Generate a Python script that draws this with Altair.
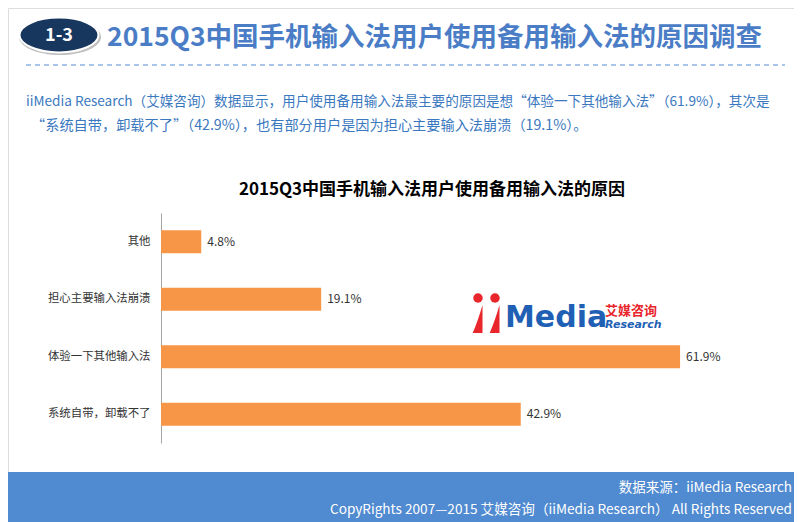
import altair as alt
import pandas as pd

categories = ["其他", "担心主要输入法崩溃", "体验一下其他输入法", "系统自带，卸载不了"]
values = [4.8, 19.1, 61.9, 42.9]
value_labels = ["4.8%", "19.1%", "61.9%", "42.9%"]

header_badge = "1-3"
header_title = "2015Q3中国手机输入法用户使用备用输入法的原因调查"
para_line1 = "iiMedia Research（艾媒咨询）数据显示，用户使用备用输入法最主要的原因是想“体验一下其他输入法”（61.9%），其次是"
para_line2 = "“系统自带，卸载不了”（42.9%），也有部分用户是因为担心主要输入法崩溃（19.1%）。"
chart_title = "2015Q3中国手机输入法用户使用备用输入法的原因"
source_text = "数据来源：iiMedia Research"
copyright_text = "CopyRights 2007—2015 艾媒咨询（iiMedia Research） All Rights Reserved"

CJK = "Noto Sans CJK SC"
W, H = 786, 514

df = pd.DataFrame({"cat": categories, "val": values, "lab": value_labels})
one = pd.DataFrame({"a": [0]})

xscale = alt.Scale(domain=[0, 70], range=[153, 740])
yscale = alt.Scale(domain=categories, range=[205, 435], paddingInner=0.6, paddingOuter=0.3)

bars = alt.Chart(df).mark_bar(color="#F79646").encode(
    x=alt.X("val:Q", scale=xscale, axis=None),
    y=alt.Y("cat:N", scale=yscale, sort=categories,
            axis=alt.Axis(title=None, orient="left", offset=-153, ticks=False,
                          domainColor="#A6A6A6", domainWidth=1, labelFont=CJK,
                          labelFontSize=11.4, labelColor="#333333", labelPadding=11,
                          grid=False)),
)
labels = alt.Chart(df).mark_text(align="left", baseline="middle", dx=6, font=CJK,
                                 fontSize=12, color="#333333").encode(
    x=alt.X("val:Q", scale=xscale), y=alt.Y("cat:N", scale=yscale, sort=categories),
    text="lab:N")

def txt(text, x, y, **kw):
    return alt.Chart(one).mark_text(text=text, **kw).encode(x=alt.value(x), y=alt.value(y))

# footer band
footer = alt.Chart(one).mark_rect(color="#508AD0").encode(
    x=alt.value(0), x2=alt.value(W), y=alt.value(464), y2=alt.value(H))

# badge ellipse
ell = "M -1 0 A 1 0.44 0 1 0 1 0 A 1 0.44 0 1 0 -1 0 Z"
badge_shadow = alt.Chart(one).mark_point(shape=ell, filled=True, color="#BFBFBF", size=6724,
                                         opacity=1).encode(x=alt.value(52), y=alt.value(29))
badge = alt.Chart(one).mark_point(shape=ell, filled=True, fill="#17375E", stroke="white",
                                  strokeWidth=2, size=6241, opacity=1).encode(
    x=alt.value(51), y=alt.value(27))

dash = alt.Chart(one).mark_rule(color="#8DB3E2", strokeDash=[5, 4], strokeWidth=1.5).encode(
    x=alt.value(18), x2=alt.value(777), y=alt.value(57))

# logo
dots = alt.Chart(pd.DataFrame({"px": [470, 487]})).mark_point(
    shape="circle", filled=True, color="#E8262B", size=90, opacity=1).encode(
    x=alt.X("px:Q", scale=None), y=alt.value(290))
sail = "M 0.25 -1 L 0.25 1 L -0.45 1 Q -0.1 0.2 0.25 -1 Z"
stems = alt.Chart(pd.DataFrame({"px": [471, 488]})).mark_point(
    shape=sail, filled=True, color="#E8262B", size=784, opacity=1).encode(
    x=alt.X("px:Q", scale=None), y=alt.value(311))

layers = [
    footer,
    badge_shadow, badge,
    txt(header_badge, 51, 28, font=CJK, fontSize=18, fontWeight="bold", color="white",
        align="center", baseline="middle"),
    txt(header_title, 99, 30, font=CJK, fontSize=26.5, fontWeight="bold", color="#4A7DC6",
        align="left", baseline="middle"),
    dash,
    txt(para_line1, 18, 94, font=CJK, fontSize=13.6, color="#3A78C0", align="left",
        baseline="middle"),
    txt(para_line2, 23, 118, font=CJK, fontSize=14.2, color="#3A78C0", align="left",
        baseline="middle"),
    txt(chart_title, 424, 182, font=CJK, fontSize=17, fontWeight="bold", color="#000000",
        align="center", baseline="middle"),
    bars, labels,
    dots, stems,
    txt("Media", 497, 310, font="DejaVu Sans", fontSize=30, fontWeight="bold",
        color="#1F5FB4", align="left", baseline="middle"),
    txt("艾媒咨询", 597, 303, font=CJK, fontSize=13, fontWeight="bold", color="#E8262B",
        align="left", baseline="middle"),
    txt("Research", 597, 317, font="DejaVu Sans", fontSize=11, fontWeight="bold",
        fontStyle="italic", color="#1F5FB4", align="left", baseline="middle"),
    txt(source_text, 784, 480, font=CJK, fontSize=13.5, color="white", align="right",
        baseline="middle"),
    txt(copyright_text, 784, 502, font=CJK, fontSize=13.6, color="white", align="right",
        baseline="middle"),
]

chart = alt.layer(*layers).properties(
    width=W, height=H, autosize=alt.AutoSizeParams(type="none"), padding=0
).configure_view(stroke=None).configure(background="white")

chart.save("out.html", embed_options={"renderer": "svg", "actions": False})
